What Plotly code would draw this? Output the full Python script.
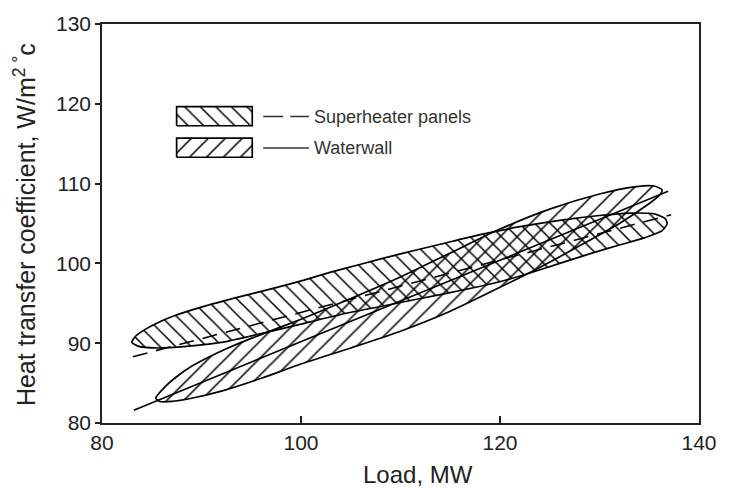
import plotly.graph_objects as go

# ---- data ----
# Waterwall band outline: upper edge (left -> right), lower edge (right -> left)
ww_top_x = [85.4, 86.3, 87.5, 89.0, 90.8, 92.5, 95.0, 100.0, 105.0, 110.0, 115.0, 120.0, 125.0, 130.0, 133.5, 135.5, 136.3]
ww_top_y = [83.1, 84.5, 85.8, 87.1, 88.3, 89.3, 90.6, 93.0, 95.6, 98.3, 101.3, 104.3, 106.8, 108.7, 109.6, 109.7, 109.2]
ww_bot_x = [136.0, 135.0, 132.0, 128.0, 124.0, 120.0, 115.0, 110.0, 105.0, 100.0, 96.0, 92.0, 89.0, 87.0, 85.8]
ww_bot_y = [108.5, 107.5, 105.0, 102.2, 99.5, 97.0, 94.0, 91.5, 89.4, 87.4, 85.6, 84.0, 83.1, 82.7, 82.7]

# Superheater panels band outline
sh_top_x = [83.0, 83.4, 84.3, 85.5, 87.2, 90.5, 93.8, 97.0, 100.3, 103.0, 106.0, 110.0, 114.0, 118.0, 122.0, 126.0, 130.0, 133.0, 135.5, 136.6, 136.8]
sh_top_y = [90.1, 90.9, 91.7, 92.5, 93.4, 94.7, 95.8, 96.8, 97.9, 98.9, 99.9, 101.2, 102.4, 103.6, 104.6, 105.4, 106.0, 106.3, 106.2, 105.6, 105.0]
sh_bot_x = [136.3, 134.5, 132.0, 129.0, 126.0, 123.0, 120.0, 116.0, 112.0, 108.0, 104.0, 100.0, 96.0, 92.0, 88.5, 85.5, 83.7]
sh_bot_y = [104.1, 103.2, 102.3, 101.2, 100.0, 98.8, 97.7, 96.6, 95.6, 94.6, 93.6, 92.4, 91.2, 90.1, 89.6, 89.4, 89.6]

# Fitted lines (end points)
sh_line_x = [83.1, 137.2]
sh_line_y = [88.3, 106.1]
ww_line_x = [83.2, 136.9]
ww_line_y = [81.6, 109.05]

x_ticks = [80, 100, 120, 140]
y_ticks = [80, 90, 100, 110, 120, 130]

series_names = ["Superheater panels", "Waterwall"]

# ---- layout constants ----
FONT = "Liberation Sans, Arial, Helvetica, sans-serif"
LEG_BOX_X = [87.5, 95.1]
LEG_BOX1_Y = [117.25, 119.65]
LEG_BOX2_Y = [113.3, 115.7]
LEG_LINE_X = [96.2, 100.8]
LEG_LINE1_Y = 118.4
LEG_LINE2_Y = 114.45
LEG_TEXT_X = 101.15

SH_PATTERN = dict(shape="\\", size=11, solidity=0.14, fgcolor="black",
                  bgcolor="rgba(0,0,0,0)", fillmode="replace")
WW_PATTERN = dict(shape="/", size=12, solidity=0.13, fgcolor="black",
                  bgcolor="rgba(0,0,0,0)", fillmode="replace")

fig = go.Figure()

# bands
fig.add_trace(go.Scatter(
    x=ww_top_x + ww_bot_x + [ww_top_x[0]], y=ww_top_y + ww_bot_y + [ww_top_y[0]],
    mode="lines", fill="toself", fillcolor="rgba(0,0,0,0)", fillpattern=WW_PATTERN,
    line=dict(color="black", width=1.7, shape="spline", smoothing=0.6),
    showlegend=False, hoverinfo="skip"))
fig.add_trace(go.Scatter(
    x=sh_top_x + sh_bot_x + [sh_top_x[0]], y=sh_top_y + sh_bot_y + [sh_top_y[0]],
    mode="lines", fill="toself", fillcolor="rgba(0,0,0,0)", fillpattern=SH_PATTERN,
    line=dict(color="black", width=1.7, shape="spline", smoothing=0.6),
    showlegend=False, hoverinfo="skip"))

# lines
fig.add_trace(go.Scatter(x=sh_line_x, y=sh_line_y, mode="lines",
                         line=dict(color="black", width=1.6, dash="15px,9px"),
                         showlegend=False, name=series_names[0]))
fig.add_trace(go.Scatter(x=ww_line_x, y=ww_line_y, mode="lines",
                         line=dict(color="black", width=1.6),
                         showlegend=False, name=series_names[1]))

# custom legend: hatched boxes
for bx, by, pat in [(LEG_BOX_X, LEG_BOX1_Y, SH_PATTERN), (LEG_BOX_X, LEG_BOX2_Y, WW_PATTERN)]:
    fig.add_trace(go.Scatter(
        x=[bx[0], bx[1], bx[1], bx[0], bx[0]], y=[by[0], by[0], by[1], by[1], by[0]],
        mode="lines", fill="toself", fillcolor="rgba(0,0,0,0)", fillpattern=pat,
        line=dict(color="black", width=1.7), showlegend=False, hoverinfo="skip"))
fig.add_trace(go.Scatter(x=LEG_LINE_X, y=[LEG_LINE1_Y] * 2, mode="lines",
                         line=dict(color="#333", width=1.5, dash="20px,7px"),
                         showlegend=False, hoverinfo="skip"))
fig.add_trace(go.Scatter(x=LEG_LINE_X, y=[LEG_LINE2_Y] * 2, mode="lines",
                         line=dict(color="#333", width=1.5),
                         showlegend=False, hoverinfo="skip"))

annotations = [
    dict(x=LEG_TEXT_X, y=LEG_LINE1_Y, xref="x", yref="y", text=series_names[0],
         showarrow=False, xanchor="left", yanchor="middle",
         font=dict(family=FONT, size=18, color="#333")),
    dict(x=LEG_TEXT_X, y=LEG_LINE2_Y, xref="x", yref="y", text=series_names[1],
         showarrow=False, xanchor="left", yanchor="middle",
         font=dict(family=FONT, size=18, color="#333")),
    dict(x=0.5287, y=-0.13, xref="paper", yref="paper", text="Load, MW",
         showarrow=False, xanchor="center", yanchor="middle",
         font=dict(family=FONT, size=24, color="#222")),
    dict(x=-0.13, y=0.497, xref="paper", yref="paper",
         text="Heat transfer coefficient, W/m<sup>2 °</sup>c", textangle=-90,
         showarrow=False, xanchor="center", yanchor="middle",
         font=dict(family=FONT, size=25, color="#222")),
]

fig.update_layout(
    width=729, height=490,
    margin=dict(l=102, r=18, t=22, b=67),
    paper_bgcolor="white", plot_bgcolor="white",
    showlegend=False,
    annotations=annotations,
    font=dict(family=FONT, color="#222"),
)
fig.update_xaxes(range=[80, 140], tickvals=x_ticks, ticktext=[str(v) for v in x_ticks],
                 ticks="inside", ticklen=7, tickwidth=1.5, tickcolor="#222",
                 showline=True, linecolor="#222", linewidth=1.6, mirror=True,
                 showgrid=False, zeroline=False, tickfont=dict(size=21, family=FONT, color="#222"))
fig.update_yaxes(range=[80, 130], tickvals=y_ticks, ticktext=[str(v) for v in y_ticks],
                 ticks="outside", ticklen=5, tickwidth=1.5, tickcolor="#222",
                 showline=True, linecolor="#222", linewidth=1.6, mirror=True,
                 showgrid=False, zeroline=False, tickfont=dict(size=21, family=FONT, color="#222"))

fig.write_html("out.html")
